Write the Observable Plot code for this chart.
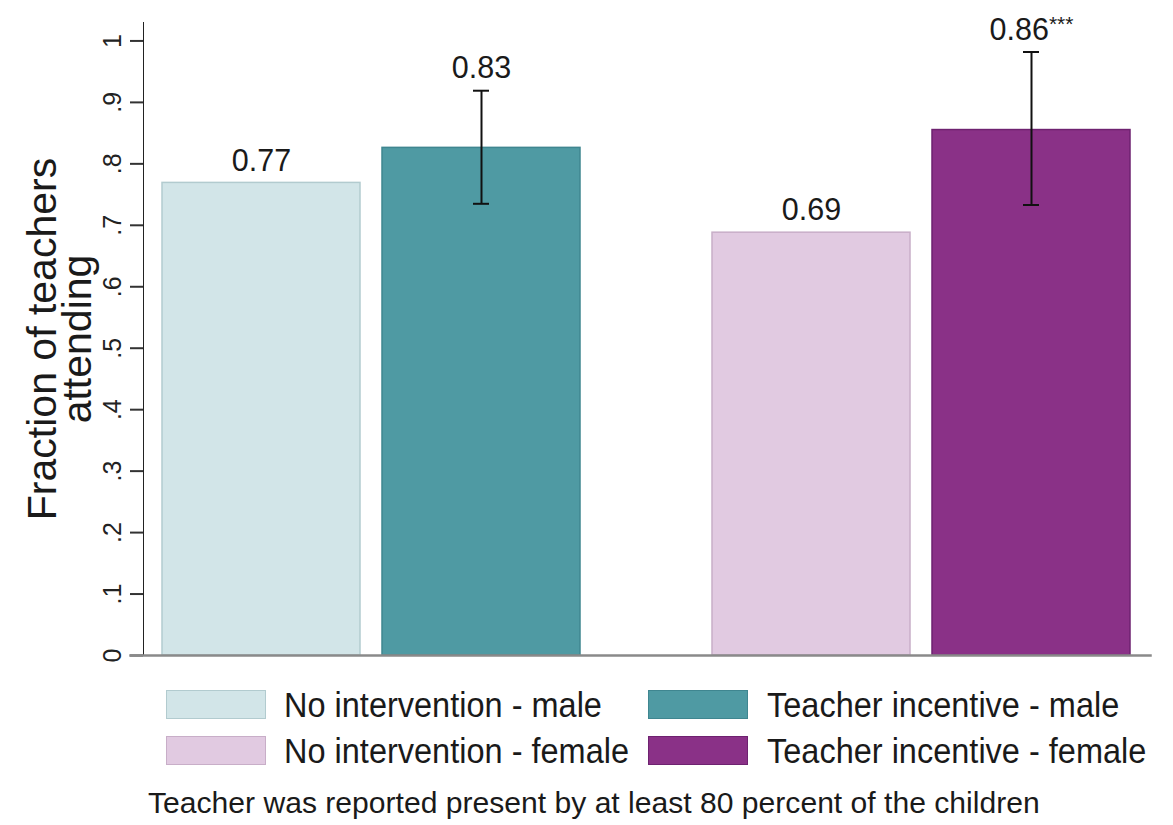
<!DOCTYPE html>
<html><head><meta charset="utf-8">
<script src="https://cdn.jsdelivr.net/npm/d3@7"></script>
<script src="https://cdn.jsdelivr.net/npm/@observablehq/plot@0.6"></script>
<style>
body{margin:0;background:#fff;font-family:"Liberation Sans",Arial,sans-serif;color:#1a1a1a;}
#wrap{position:relative;width:1173px;height:825px;overflow:hidden;}
#chart{position:absolute;left:0;top:0;}
.sw{position:absolute;width:100px;height:29px;box-sizing:border-box;border:1.5px solid;}
.lt{position:absolute;font-size:32.5px;line-height:32px;white-space:nowrap;transform:scaleY(1.06);transform-origin:left center;}
#cap{position:absolute;left:148px;top:788px;font-size:30.1px;line-height:30px;white-space:nowrap;}
</style></head><body><div id="wrap"><div id="chart"></div><div id="legend"></div><div id="cap"></div></div>
<script>
const groups = ["male", "female"];
const arms = ["No intervention", "Teacher incentive"];
const series = ["No intervention - male", "Teacher incentive - male", "No intervention - female", "Teacher incentive - female"];
const seriesGroup = ["male", "male", "female", "female"];
const seriesArm = ["No intervention", "Teacher incentive", "No intervention", "Teacher incentive"];
const means = [0.769, 0.826, 0.688, 0.855];
const ciLow = [null, 0.735, null, 0.733];
const ciHigh = [null, 0.919, null, 0.982];
const valueLabels = ["0.77", "0.83", "0.69", "0.86***"];
const yTicks = [0, 0.1, 0.2, 0.3, 0.4, 0.5, 0.6, 0.7, 0.8, 0.9, 1];
const yTickLabels = ["0", ".1", ".2", ".3", ".4", ".5", ".6", ".7", ".8", ".9", "1"];
const yTitle = "Fraction of teachers\nattending";
const caption = "Teacher was reported present by at least 80 percent of the children";
const fills = ["#d2e5e8", "#4f9aa3", "#e1cae1", "#8a3187"];
const strokes = ["#b2cbcf", "#3f8690", "#c8aec8", "#6e2270"];

const rows = series.map((s, i) => ({
  series: s, group: seriesGroup[i], arm: seriesArm[i], mean: means[i],
  lo: ciLow[i], hi: ciHigh[i], label: valueLabels[i],
  top: ciHigh[i] != null ? ciHigh[i] : means[i], fill: fills[i], stroke: strokes[i]
}));
const err = rows.filter(d => d.hi != null);

const chart = Plot.plot({
  width: 1173, height: 670,
  marginLeft: 143, marginRight: 25, marginTop: 22, marginBottom: 15,
  style: {fontFamily: "Liberation Sans, Arial, sans-serif", fontSize: "25px", color: "#222", background: "white"},
  fx: {domain: groups, axis: null, paddingInner: 0.173, paddingOuter: 0},
  x: {domain: arms, axis: null, paddingInner: 0.1, paddingOuter: 0.0818},
  y: {domain: [0, 1.03], ticks: yTicks, tickFormat: d => yTickLabels[yTicks.indexOf(d)],
      tickSize: 13, tickPadding: 10, tickRotate: -90, line: true, label: null},
  color: {type: "identity"},
  marks: [
    Plot.barY(rows, {fx: "group", x: "arm", y: "mean", fill: "fill", stroke: "stroke", strokeWidth: 1.5}),
    Plot.frame({anchor: "bottom", facet: "super", stroke: "#8a8a8a", strokeWidth: 2.5, insetLeft: -13, insetRight: -2}),
    Plot.ruleX(err, {fx: "group", x: "arm", y1: "lo", y2: "hi", stroke: "#111", strokeWidth: 2}),
    Plot.tickY(err, {fx: "group", x: "arm", y: "hi", stroke: "#111", strokeWidth: 2, insetLeft: 91, insetRight: 91}),
    Plot.tickY(err, {fx: "group", x: "arm", y: "lo", stroke: "#111", strokeWidth: 2, insetLeft: 91, insetRight: 91}),
    Plot.text(rows, {fx: "group", x: "arm", y: "top", text: "label", dy: -22, fontSize: 30.5, fill: "#1a1a1a"}),
    Plot.text([yTitle], {facet: "super", frameAnchor: "left", textAnchor: "middle", lineAnchor: "middle",
      dx: -81, rotate: -90, fontSize: 41, lineHeight: 0.86, fill: "#1a1a1a"})
  ]
});
document.getElementById("chart").appendChild(chart);

// style y axis line/ticks
d3.select(chart).selectAll("[aria-label^='y-axis'] path").attr("stroke", "#333").attr("stroke-width", 2);

// superscript stars
d3.select(chart).selectAll("text").each(function() {
  const t = d3.select(this);
  const s = this.textContent;
  if (this.childElementCount === 0 && s.endsWith("***")) {
    t.text(null);
    t.append("tspan").text(s.slice(0, -3));
    t.append("tspan").attr("font-size", 21).attr("dy", -9).text("***");
  }
});

// legend
const legend = document.getElementById("legend");
const cols = [[166, 284], [648, 767]];
const rowsTop = [690, 736];
[[0, 0, 0], [1, 0, 1], [2, 1, 0], [3, 1, 1]].forEach(([i, r, c]) => {
  const sw = document.createElement("div");
  sw.className = "sw";
  sw.style.left = cols[c][0] + "px"; sw.style.top = rowsTop[r] + "px";
  sw.style.background = fills[i]; sw.style.borderColor = strokes[i];
  legend.appendChild(sw);
  const t = document.createElement("div");
  t.className = "lt";
  t.style.left = cols[c][1] + "px"; t.style.top = (rowsTop[r] - 1) + "px";
  t.textContent = series[i];
  legend.appendChild(t);
});
document.getElementById("cap").textContent = caption;
</script></body></html>
